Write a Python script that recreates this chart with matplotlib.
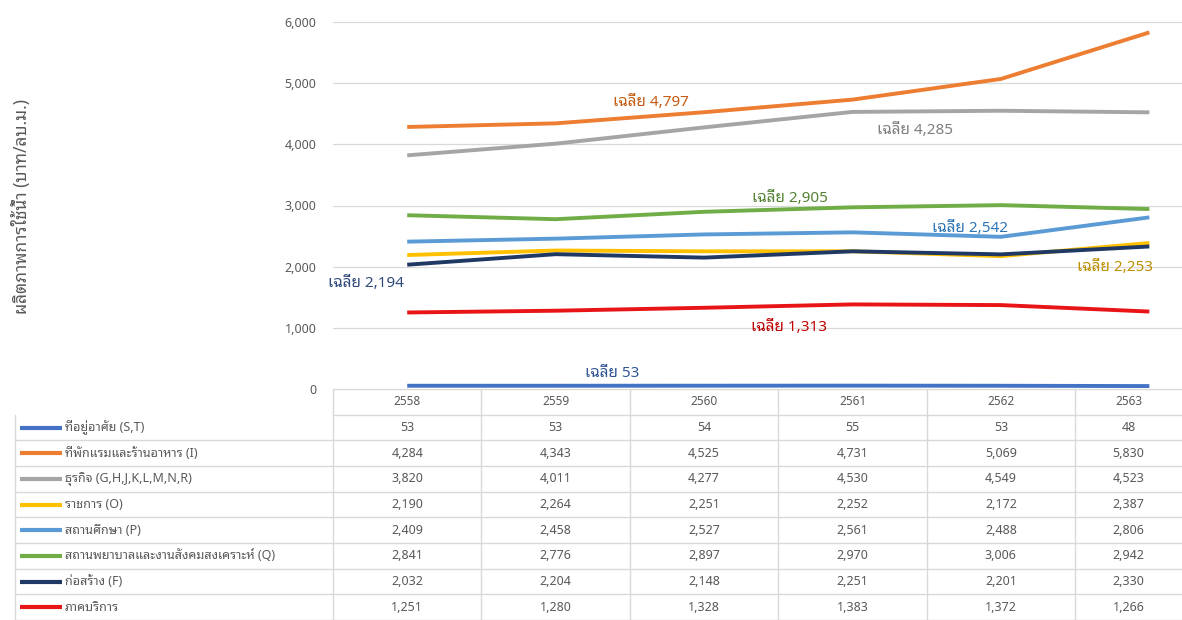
import matplotlib
matplotlib.use('Agg')
import matplotlib.pyplot as plt
import numpy as np

plt.rcParams['font.family'] = ['Noto Sans Thai Looped', 'Noto Sans', 'DejaVu Sans']

years = ['2558', '2559', '2560', '2561', '2562', '2563']
series_names = [
    'ที่อยู่อาศัย (S,T)',
    'ที่พักแรมและร้านอาหาร (I)',
    'ธุรกิจ (G,H,J,K,L,M,N,R)',
    'ราชการ (O)',
    'สถานศึกษา (P)',
    'สถานพยาบาลและงานสังคมสงเคราะห์ (Q)',
    'ก่อสร้าง (F)',
    'ภาคบริการ',
]
residential = [53, 53, 54, 55, 53, 48]
hotel = [4284, 4343, 4525, 4731, 5069, 5830]
business = [3820, 4011, 4277, 4530, 4549, 4523]
government = [2190, 2264, 2251, 2252, 2172, 2387]
education = [2409, 2458, 2527, 2561, 2488, 2806]
health = [2841, 2776, 2897, 2970, 3006, 2942]
construction = [2032, 2204, 2148, 2251, 2201, 2330]
services = [1251, 1280, 1328, 1383, 1372, 1266]

series = [residential, hotel, business, government, education, health, construction, services]
line_colors = ['#4472C4', '#ED7D31', '#A5A5A5', '#FFC000', '#5B9BD5', '#70AD47', '#203864', '#E81416']
label_colors = ['#2F5597', '#C55A11', '#7F7F7F', '#BF9000', '#2E75B6', '#548235', '#2F4A7A', '#C00000']
# where the "average" label of each series sits (x index, y value)
label_pos = [(1.38, 260), (1.64, 4680), (3.42, 4230), (4.77, 1980),
             (3.79, 2630), (2.58, 3120), (-0.28, 1730), (2.57, 1000)]

W, H = 1182, 620
fig = plt.figure(figsize=(W / 100, H / 100), dpi=100)

left = 333 / W
bottom = 1 - 389 / H
top = 1 - 22 / H
ax = fig.add_axes([left, bottom, 1 - left, top - bottom])
x = np.arange(len(years))
xlim = (-0.5, 5.22)

for vals, c in zip(series, line_colors):
    ax.plot(x, vals, color=c, lw=2.8, solid_capstyle='butt', zorder=3)

for vals, c, (lx, ly) in zip(series, label_colors, label_pos):
    ax.text(lx, ly, 'เฉลี่ย {:,.0f}'.format(np.mean(vals)), color=c, fontsize=11,
            ha='center', va='center', zorder=4)

ax.set_xlim(*xlim)
ax.set_ylim(0, 6000)
ax.set_yticks(range(0, 6001, 1000))
ax.set_yticklabels(['{:,}'.format(v) for v in range(0, 6001, 1000)], color='#595959', fontsize=9)
ax.set_xticks([])
ax.tick_params(axis='y', length=0, pad=12)
ax.grid(axis='y', color='#D9D9D9', lw=0.9)
ax.set_axisbelow(True)
for s in ax.spines.values():
    s.set_visible(False)

fig.text(22 / W, 1 - 206 / H, 'ผลิตภาพการใช้น้ำ (บาท/ลบ.ม.)', rotation=90,
         ha='center', va='center', fontsize=12.5, color='#595959')

# data table under the chart, sharing the category positions
tab = fig.add_axes([0, 0, 1, bottom])
units_per_frac = (xlim[1] - xlim[0]) / (1 - left)
px = units_per_frac / W
tab.set_xlim(xlim[0] - left * units_per_frac, xlim[1])
nrows = len(series) + 1
tab.set_ylim(0, nrows)
tab.axis('off')
grid_c = '#D9D9D9'
label_left = tab.get_xlim()[0] + 15 * px

# the last column is cut by the right edge, its text sits in the visible part
col_x = [float(i) for i in range(len(years))]
col_x[-1] = (len(years) - 1.5 + xlim[1]) / 2

for cx, yr in zip(col_x, years):
    tab.text(cx, nrows - 0.5, yr, ha='center', va='center', fontsize=8.5, color='#595959')
for k in range(len(years) + 1):
    tab.plot([k - 0.5, k - 0.5], [0, nrows], color=grid_c, lw=1)
tab.plot([label_left, label_left], [0, nrows - 1], color=grid_c, lw=1)
for r in range(nrows + 1):
    tab.plot([label_left if r < nrows - 1 else -0.5, xlim[1]], [r, r], color=grid_c, lw=1)

for r, (name, vals, c) in enumerate(zip(series_names, series, line_colors)):
    yc = nrows - 1.5 - r
    x0 = label_left + 5 * px
    tab.plot([x0, x0 + 42 * px], [yc, yc], color=c, lw=3, solid_capstyle='butt')
    tab.text(x0 + 45 * px, yc, name, ha='left', va='center', fontsize=9, color='#595959')
    for cx, v in zip(col_x, vals):
        tab.text(cx, yc, '{:,}'.format(v), ha='center', va='center', fontsize=9, color='#595959')

fig.savefig('out.png', dpi=100)
